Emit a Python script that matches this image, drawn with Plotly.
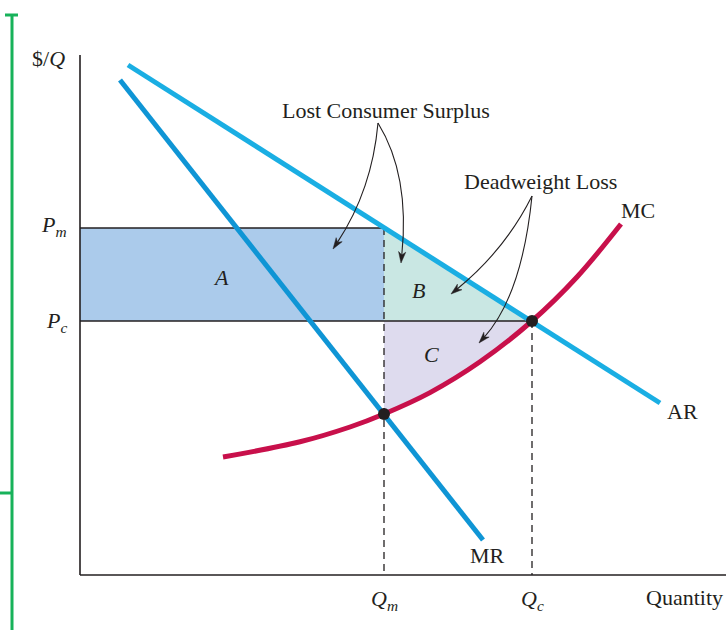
import plotly.graph_objects as go

# Monopoly outcome vs. competitive outcome (chart units: quantity, $/Q)
Qm, Qc = 7.6, 11.3          # monopoly / competitive quantity
Pm, Pc = 8.675, 6.35        # monopoly / competitive price

# Demand (average revenue) and marginal revenue lines
ar_q = [1.2, 14.5]
ar_p = [12.75, 4.3]
mr_q = [1.0, 10.075]
mr_p = [12.375, 0.875]

# Marginal cost curve, read point by point
mc_q = [3.575, 5.5, 6.75, 7.6, 8.75, 10.0, 11.3, 12.425, 13.525]
mc_p = [2.95, 3.33, 3.70, 4.025, 4.56, 5.33, 6.35, 7.45, 8.775]

INK = "#231f20"
BLUE_AR = "#1aaee3"
BLUE_MR = "#0f95d5"
RED_MC = "#c8104b"
FILL_A = "#abcbeb"
FILL_B = "#c9e7e3"
FILL_C = "#dedbee"
GREEN = "#17b25a"
FONT = "Liberation Serif"

i_m = mc_q.index(Qm)
i_c = mc_q.index(Qc)

fig = go.Figure()

# Area A: transfer from consumers to the monopolist
fig.add_trace(go.Scatter(x=[0, Qm, Qm, 0, 0], y=[Pc, Pc, Pm, Pm, Pc], mode="lines",
                         fill="toself", fillcolor=FILL_A, line=dict(width=0),
                         hoverinfo="skip"))
# Area B: lost consumer surplus (deadweight part)
fig.add_trace(go.Scatter(x=[Qm, Qc, Qm, Qm], y=[Pm, Pc, Pc, Pm], mode="lines",
                         fill="toself", fillcolor=FILL_B, line=dict(width=0),
                         hoverinfo="skip"))
# Area C: lost producer surplus, between Pc and MC
fig.add_trace(go.Scatter(x=[Qm, Qc], y=[Pc, Pc], mode="lines",
                         line=dict(width=0), hoverinfo="skip"))
fig.add_trace(go.Scatter(x=mc_q[i_m:i_c + 1], y=mc_p[i_m:i_c + 1], mode="lines",
                         line=dict(width=0, shape="spline"), fill="tonexty",
                         fillcolor=FILL_C, hoverinfo="skip"))

# Price lines and dashed quantity guides
fig.add_trace(go.Scatter(x=[0, Qm], y=[Pm, Pm], mode="lines",
                         line=dict(color=INK, width=1.3), hoverinfo="skip"))
fig.add_trace(go.Scatter(x=[0, Qc], y=[Pc, Pc], mode="lines",
                         line=dict(color=INK, width=1.3), hoverinfo="skip"))
fig.add_trace(go.Scatter(x=[Qm, Qm], y=[Pm, 0], mode="lines",
                         line=dict(color=INK, width=1.3, dash="7px,5px"), hoverinfo="skip"))
fig.add_trace(go.Scatter(x=[Qc, Qc], y=[Pc, 0], mode="lines",
                         line=dict(color=INK, width=1.3, dash="7px,5px"), hoverinfo="skip"))

# Curves
fig.add_trace(go.Scatter(x=mr_q, y=mr_p, mode="lines",
                         line=dict(color=BLUE_MR, width=5), hoverinfo="skip"))
fig.add_trace(go.Scatter(x=ar_q, y=ar_p, mode="lines",
                         line=dict(color=BLUE_AR, width=5), hoverinfo="skip"))
fig.add_trace(go.Scatter(x=mc_q, y=mc_p, mode="lines",
                         line=dict(color=RED_MC, width=5, shape="spline"), hoverinfo="skip"))

# Equilibrium points
fig.add_trace(go.Scatter(x=[mc_q[i_m], Qc], y=[mc_p[i_m], Pc], mode="markers",
                         marker=dict(color=INK, size=12), hoverinfo="skip"))

shapes = []

# Axes
shapes.append(dict(type="line", xref="x", yref="y", x0=0, y0=0, x1=0, y1=13.0,
                   line=dict(color=INK, width=1.6)))
shapes.append(dict(type="line", xref="x", yref="y", x0=0, y0=0, x1=16.2, y1=0,
                   line=dict(color=INK, width=1.6)))

# Green bracket in the left margin
shapes.append(dict(type="line", xref="x", yref="y", x0=-1.7, y0=14.0, x1=-1.7, y1=-1.4,
                   line=dict(color=GREEN, width=3)))
shapes.append(dict(type="line", xref="x", yref="y", x0=-1.875, y0=14.0, x1=-1.55, y1=14.0,
                   line=dict(color=GREEN, width=3)))
shapes.append(dict(type="line", xref="x", yref="y", x0=-2.05, y0=2.05, x1=-1.7, y1=2.05,
                   line=dict(color=GREEN, width=3)))


def curved_arrow(start, ctrl, tip, head_len=0.28, half_w=0.09, notch=0.2):
    """Quadratic curve ending in a barbed arrowhead."""
    dx, dy = tip[0] - ctrl[0], tip[1] - ctrl[1]
    n = (dx * dx + dy * dy) ** 0.5
    ux, uy = dx / n, dy / n
    px, py = -uy, ux
    bx, by = tip[0] - head_len * ux, tip[1] - head_len * uy
    nx, ny = tip[0] - notch * ux, tip[1] - notch * uy
    out = [dict(type="path", xref="x", yref="y",
                path=f"M {start[0]},{start[1]} Q {ctrl[0]},{ctrl[1]} {nx},{ny}",
                line=dict(color=INK, width=1.1))]
    out.append(dict(type="path", xref="x", yref="y",
                    path=(f"M {tip[0]},{tip[1]} L {bx + half_w * px},{by + half_w * py} "
                          f"L {nx},{ny} L {bx - half_w * px},{by - half_w * py} Z"),
                    fillcolor=INK, line=dict(color=INK, width=0.5)))
    return out


lcs_apex = (7.45, 11.3)
shapes += curved_arrow(lcs_apex, (7.3, 9.625), (6.325, 8.15))
shapes += curved_arrow(lcs_apex, (8.25, 10.0), (8.025, 7.8))
dwl_apex = (11.3, 9.475)
shapes += curved_arrow(dwl_apex, (10.625, 8.125), (9.275, 7.025))
shapes += curved_arrow(dwl_apex, (11.05, 7.0), (9.975, 5.8))


def label(x, y, text, xanchor="center", yanchor="middle", italic=False):
    font = dict(family=FONT, size=22, color=INK)
    if italic:
        font["style"] = "italic"
    return dict(x=x, y=y, xref="x", yref="y", text=text, showarrow=False,
                xanchor=xanchor, yanchor=yanchor, font=font)


annotations = [
    label(-0.8, 12.925, "$/<i>Q</i>"),
    label(-0.28, 8.72, "P<sub>m</sub>", xanchor="right", italic=True),
    label(-0.28, 6.32, "P<sub>c</sub>", xanchor="right", italic=True),
    label(Qm, -0.62, "Q<sub>m</sub>", italic=True),
    label(Qc, -0.62, "Q<sub>c</sub>", italic=True),
    label(14.1, -0.55, "Quantity", xanchor="left"),
    label(10.19, 0.5, "MR"),
    label(15.05, 4.08, "AR"),
    label(13.94, 9.11, "MC"),
    label(3.525, 7.45, "A", italic=True),
    label(8.45, 7.125, "B", italic=True),
    label(8.775, 5.525, "C", italic=True),
    label(7.65, 11.62, "Lost Consumer Surplus"),
    label(11.5, 9.85, "Deadweight Loss"),
]

fig.update_layout(
    width=726, height=630,
    margin=dict(l=0, r=0, t=0, b=0),
    paper_bgcolor="white", plot_bgcolor="white",
    showlegend=False,
    xaxis=dict(range=[-2.0, 16.15], visible=False, fixedrange=True),
    yaxis=dict(range=[-1.375, 14.375], visible=False, fixedrange=True),
    shapes=shapes,
    annotations=annotations,
)

fig.write_html("out.html")
